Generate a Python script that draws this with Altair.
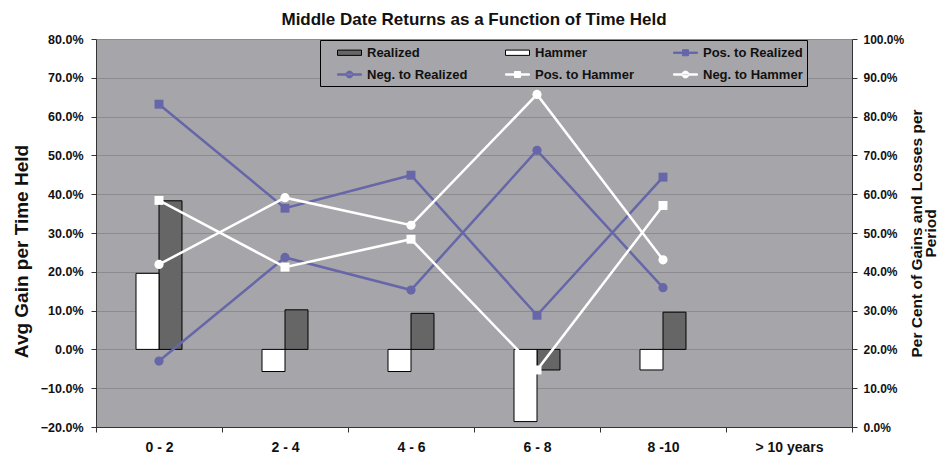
import altair as alt
import pandas as pd

# ---------------- data ----------------
categories = ["0 - 2", "2 - 4", "4 - 6", "6 - 8", "8 -10", "> 10 years"]
realized = [0.383, 0.102, 0.093, -0.053, 0.096]
hammer = [0.196, -0.057, -0.057, -0.186, -0.053]
pos_to_realized = [0.832, 0.564, 0.649, 0.288, 0.644]
neg_to_realized = [0.170, 0.437, 0.353, 0.713, 0.359]
pos_to_hammer = [0.584, 0.412, 0.484, 0.147, 0.571]
neg_to_hammer = [0.419, 0.591, 0.520, 0.857, 0.431]

series_names = ["Realized", "Hammer", "Pos. to Realized",
                "Neg. to Realized", "Pos. to Hammer", "Neg. to Hammer"]
left_ticks = [-0.2, -0.1, 0.0, 0.1, 0.2, 0.3, 0.4, 0.5, 0.6, 0.7, 0.8]
right_ticks = [0.0, 0.1, 0.2, 0.3, 0.4, 0.5, 0.6, 0.7, 0.8, 0.9, 1.0]

rows = []
for name, vals in zip(series_names, [realized, hammer, pos_to_realized,
                                     neg_to_realized, pos_to_hammer, neg_to_hammer]):
    for c, v in zip(categories, vals):
        rows.append({"cat": c, "series": name, "value": v})
df = pd.DataFrame(rows)

# ---------------- styles ----------------
FONT = "Liberation Sans"
BG = "#A6A6AA"
GRID = "#8C8C90"
PURPLE = "#6666A8"
DARK = "#666666"
WHITE = "#FFFFFF"
AXIS = "#333333"
TXT = "#111111"

fill_scale = alt.Scale(domain=series_names,
                       range=[DARK, WHITE, PURPLE, PURPLE, WHITE, WHITE])
stroke_scale = alt.Scale(domain=series_names,
                         range=["#000000", "#000000", PURPLE, PURPLE, WHITE, WHITE])
bar_path = "M0.625,-0.33H3.625V0.33H0.625Z"
line_sq = "M0.625,-0.08H3.625V0.08H0.625Z M1.75,-0.375H2.5V0.375H1.75Z"
line_ci = ("M0.625,-0.08H3.625V0.08H0.625Z "
           "M1.7,0A0.425,0.425 0 1,0 2.55,0A0.425,0.425 0 1,0 1.7,0Z")
shape_scale = alt.Scale(domain=series_names,
                        range=[bar_path, bar_path, line_sq, line_ci, line_sq, line_ci])

legend = alt.Legend(
    title=None, orient="none", legendX=224, legendY=1, columns=3,
    direction="horizontal",
    fillColor=BG, strokeColor="#000000", padding=4,
    symbolSize=256, symbolStrokeWidth=1, symbolOpacity=1,
    labelFont=FONT, labelFontSize=13, labelFontWeight="bold", labelColor=TXT,
    labelOffset=26, columnPadding=24, rowPadding=6, gridAlign="all",
)

x_enc = alt.X("cat:N", sort=categories,
              scale=alt.Scale(domain=categories, paddingInner=0, paddingOuter=0),
              axis=alt.Axis(title=None, labelAngle=0, tickBand="extent", grid=False,
                            tickSize=5, tickColor=AXIS, domainColor=AXIS,
                            labelFont=FONT, labelFontSize=14, labelFontWeight="bold",
                            labelColor=TXT, labelPadding=8))

base = alt.Chart(df)

bars = base.transform_filter(
    alt.FieldOneOfPredicate(field="series", oneOf=["Realized", "Hammer"])
).mark_bar(strokeWidth=1).encode(
    x=x_enc,
    xOffset=alt.XOffset("series:N",
                        scale=alt.Scale(domain=["_l", "Hammer", "Realized", "_r"],
                                        paddingInner=0, paddingOuter=0.74)),
    y=alt.Y("value:Q", scale=alt.Scale(domain=[-0.2, 0.8], nice=False, zero=False),
            axis=alt.Axis(orient="left", values=left_ticks, format=".1%", grid=True,
                          gridColor=GRID, tickSize=5, tickColor=AXIS, domainColor=AXIS,
                          labelFont=FONT, labelFontSize=12.5, labelFontWeight="bold",
                          labelColor=TXT, labelPadding=8,
                          title="Avg Gain per Time Held", titleFont=FONT,
                          titleFontSize=19, titleFontWeight="bold",
                          titleColor=TXT, titlePadding=9, titleY=212)),
    fill=alt.Fill("series:N", scale=fill_scale, legend=legend),
    stroke=alt.Stroke("series:N", scale=stroke_scale, legend=legend),
)

line_names = ["Pos. to Realized", "Neg. to Realized", "Pos. to Hammer", "Neg. to Hammer"]
y_right = alt.Y("value:Q", scale=alt.Scale(domain=[0, 1], nice=False, zero=False),
                axis=alt.Axis(orient="right", values=right_ticks, format=".1%", grid=False,
                              tickSize=5, tickColor=AXIS, domainColor=AXIS,
                              labelFont=FONT, labelFontSize=12, labelFontWeight="bold",
                              labelColor=TXT, labelPadding=6,
                              title=["Per Cent of Gains and Losses per", "Period"],
                              titleAngle=270, titleFont=FONT, titleFontSize=15.5,
                              titleFontWeight="bold", titleColor=TXT,
                              titlePadding=7, titleLineHeight=14))

lines_base = base.transform_filter(
    alt.FieldOneOfPredicate(field="series", oneOf=line_names))

lines = lines_base.mark_line(strokeWidth=2.5).encode(
    x=x_enc, y=y_right,
    stroke=alt.Stroke("series:N", scale=stroke_scale, legend=legend),
    order=alt.Order("cat:N"),
)

squares = lines_base.transform_filter(
    alt.FieldOneOfPredicate(field="series", oneOf=["Pos. to Realized", "Pos. to Hammer"])
).mark_point(filled=True, shape="square", size=80, opacity=1).encode(
    x=x_enc, y=y_right,
    fill=alt.Fill("series:N", scale=fill_scale, legend=legend),
)

circles = lines_base.transform_filter(
    alt.FieldOneOfPredicate(field="series", oneOf=["Neg. to Realized", "Neg. to Hammer"])
).mark_point(filled=True, shape="circle", size=85, opacity=1).encode(
    x=x_enc, y=y_right,
    fill=alt.Fill("series:N", scale=fill_scale, legend=legend),
)

legend_layer = base.transform_filter("datum.value > 5").mark_point(
    filled=True, opacity=1).encode(
    x=x_enc, y=y_right,
    fill=alt.Fill("series:N", scale=fill_scale, legend=legend),
    stroke=alt.Stroke("series:N", scale=stroke_scale, legend=legend),
    shape=alt.Shape("series:N", scale=shape_scale, legend=legend),
)

right_layer = alt.layer(lines, squares, circles, legend_layer)

chart = alt.layer(bars, right_layer).resolve_scale(
    y="independent"
).properties(
    width=756, height=388,
    padding={"left": 88, "top": 31, "right": 88, "bottom": 30},
    autosize=alt.AutoSizeParams(type="none"),
    background="white",
    title=alt.Title("Middle Date Returns as a Function of Time Held",
                    font=FONT, fontSize=17, fontWeight="bold", color=TXT,
                    anchor="middle", offset=4),
).configure_view(fill=BG, stroke="transparent")

chart.save("out.html", embed_options={"renderer": "svg", "actions": False})
